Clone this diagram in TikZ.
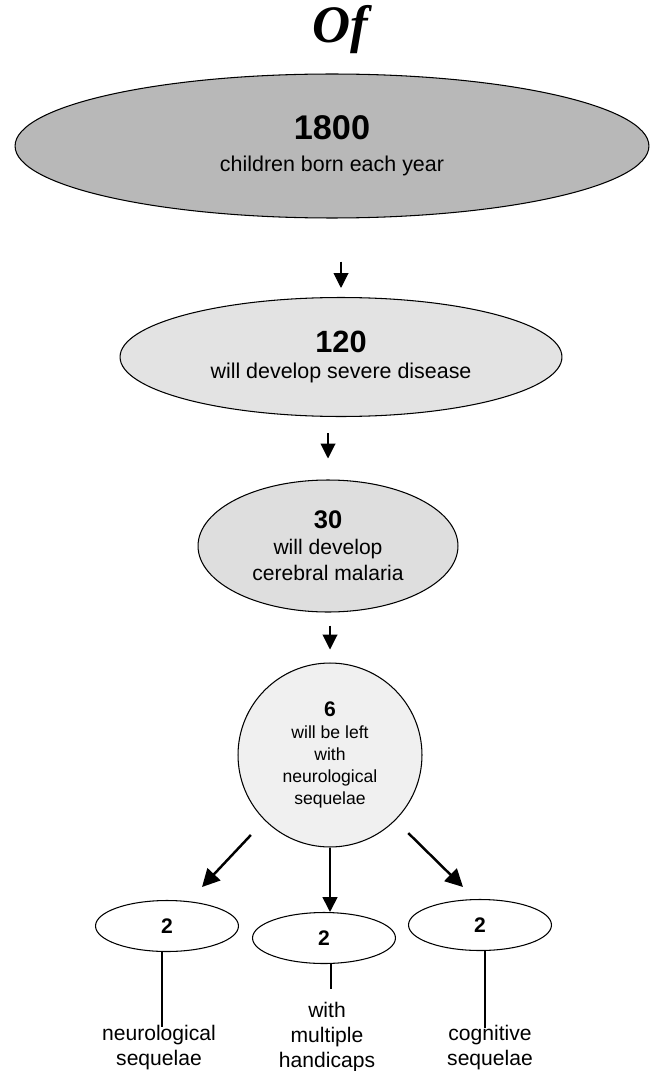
\documentclass[tikz,border=0pt]{standalone}
\usepackage{fontspec}
\usepackage{tikz}
\usetikzlibrary{shapes.geometric,arrows.meta}
\setmainfont{Liberation Sans}
\newfontfamily\ofhand{Liberation Serif}
\definecolor{dotdense}{gray}{0.72}
\definecolor{dotlight}{gray}{0.89}
\definecolor{dotgrid}{gray}{0.87}
\definecolor{dotfaint}{gray}{0.94}

\begin{document}
\begin{tikzpicture}[x=0.02cm, y=-0.02cm, oval/.style = {shape=ellipse, draw, line width=0.6pt, align=center, inner sep=0pt}, small/.style = {oval, fill=white, minimum width=2.86cm, minimum height=1.02cm, font=\fontsize{12}{14}\selectfont\bfseries}, lab/.style = {align=center, inner sep=0pt, font=\fontsize{12}{14.2}\selectfont}, arr/.style = {-{Triangle[length=8.5pt,width=8.5pt]}, line width=0.6pt}, bigarr/.style = {-{Triangle[length=10pt,width=10pt]}, line width=1.4pt}]
	\useasboundingbox (0,0) rectangle (651,1071);
	\node (of) at (340,30) {\ofhand\fontsize{30}{30}\selectfont\bfseries\itshape Of};
	\node[oval, fill=dotdense, minimum width=12.68cm, minimum height=2.88cm, font=\fontsize{12.2}{18.2}\selectfont] (born) at (332,146) {{\fontsize{19.5}{19.5}\selectfont\bfseries 1800}\\ children born each year};
	\node[oval, fill=dotlight, minimum width=8.84cm, minimum height=2.38cm, font=\fontsize{12.2}{14.8}\selectfont] (severe) at (341,357) {{\fontsize{17.5}{17.5}\selectfont\bfseries 120}\\ will develop severe disease};
	\node[oval, fill=dotgrid, minimum width=5.2cm, minimum height=2.64cm, font=\fontsize{12}{14.8}\selectfont] (cerebral) at (328,546) {{\fontsize{14.5}{14.5}\selectfont\bfseries 30}\\ will develop\\ cerebral malaria};
	\node[shape=circle, draw, line width=0.6pt, align=center, inner sep=0pt, fill=dotfaint, minimum size=3.68cm, font=\fontsize{10}{12.6}\selectfont] (left) at (330,755) {{\fontsize{12}{12}\selectfont\bfseries 6}\\ will be left\\ with\\ neurological\\ sequelae};
	\node[small] (neuro) at (167,926) {2};
	\node[small] (multi) at (324,938) {2};
	\node[small] (cogn) at (480,925) {2};
	\node[lab, anchor=north] (neurolab) at (159,1025) {neurological\\ sequelae};
	\node[lab, anchor=north] (multilab) at (327,1002) {with\\ multiple\\ handicaps};
	\node[lab, anchor=north] (cognlab) at (490,1025) {cognitive\\ sequelae};
	\coordinate (tipneuro) at (202,887);
	\coordinate (tipcogn) at (463,887);
	% arrows down the chain
	\draw[arr, shorten <=0.86cm, shorten >=0.18cm] (severe.north |- born.south) -- (severe.north);
	\draw[arr, shorten <=0.32cm, shorten >=0.42cm] (cerebral.north |- severe.south) -- (cerebral.north);
	\draw[arr, shorten <=0.26cm, shorten >=0.26cm] (left.north |- cerebral.south) -- (left.north);
	\draw[bigarr, shorten <=0.4cm] (left.-135) -- (tipneuro);
	\draw[arr, line width=1pt] (left.south) -- (left.south |- multi.north);
	\draw[bigarr, shorten <=0.36cm] (left.-45) -- (tipcogn);
	% lines to the labels
	\draw[line width=0.6pt] ([xshift=-0.1cm]neuro.south) -- ([xshift=-0.1cm, yshift=-0.04cm]neuro.south |- neurolab.north);
	\draw[line width=0.6pt, shorten >=0.26cm] ([xshift=0.14cm]multi.south) -- ([xshift=0.14cm]multi.south |- multilab.north);
	\draw[line width=0.6pt] ([xshift=0.1cm]cogn.south) -- ([xshift=0.1cm, yshift=-0.06cm]cogn.south |- cognlab.north);
\end{tikzpicture}
\end{document}
